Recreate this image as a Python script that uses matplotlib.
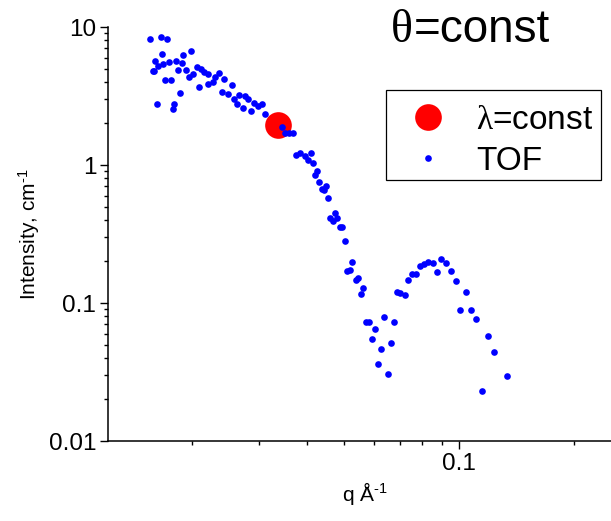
import matplotlib
matplotlib.use("Agg")
import matplotlib.pyplot as plt
from matplotlib.ticker import FixedLocator, FixedFormatter, LogLocator, NullFormatter

plt.rcParams['font.family'] = ['Liberation Sans', 'DejaVu Sans']
plt.rcParams['mathtext.fontset'] = 'custom'
plt.rcParams['mathtext.rm'] = 'Liberation Sans'
plt.rcParams['mathtext.it'] = 'Liberation Sans:italic'
plt.rcParams['mathtext.bf'] = 'Liberation Sans:bold'
plt.rcParams['mathtext.sf'] = 'Liberation Sans'
plt.rcParams['mathtext.cal'] = 'Liberation Serif'

# TOF data (q in 1/Angstrom, intensity in 1/cm)
tof_q = [0.01553, 0.01578, 0.01591, 0.01603, 0.01622, 0.01632, 0.01656, 0.01672,
         0.01682, 0.01703, 0.01723, 0.01741, 0.01762, 0.01780, 0.01794, 0.01816,
         0.01835, 0.01860, 0.01879, 0.01898, 0.01929, 0.01968, 0.01988, 0.02016,
         0.02058, 0.02090, 0.02112, 0.02154, 0.02207, 0.02207, 0.02274, 0.02298,
         0.02358, 0.02392, 0.02426, 0.02489, 0.02541, 0.02581, 0.02628, 0.02660,
         0.02715, 0.02753, 0.02808, 0.02849, 0.02906, 0.02982, 0.03055, 0.03110,
         0.03434, 0.03503, 0.03589, 0.03670, 0.03737, 0.03835, 0.03953, 0.04032,
         0.04091, 0.04140, 0.04198, 0.04241, 0.04308, 0.04371, 0.04432, 0.04486,
         0.04549, 0.04596, 0.04671, 0.04736, 0.04802, 0.04881, 0.04949, 0.05030,
         0.05082, 0.05185, 0.05257, 0.05366, 0.05451, 0.05530, 0.05617, 0.05708,
         0.05813, 0.05920, 0.06027, 0.06148, 0.06249, 0.06375, 0.06507, 0.06637,
         0.06770, 0.06894, 0.07006, 0.07221, 0.07367, 0.07520, 0.07716, 0.07905,
         0.08098, 0.08311, 0.08534, 0.08741, 0.08974, 0.09230, 0.09512, 0.09803,
         0.1008, 0.1041, 0.1075, 0.1110, 0.1149, 0.1189, 0.1235, 0.1333]
tof_I = [8.185, 4.799, 4.80, 5.642, 2.754, 5.216, 8.506, 6.373,
         5.366, 4.129, 8.144, 5.577, 4.129, 2.559, 2.754, 5.642,
         4.880, 3.341, 5.458, 6.268, 4.880, 4.364, 6.734, 4.564,
         5.105, 3.656, 4.938, 4.744, 4.564, 3.864, 4.014, 4.364,
         4.618, 3.364, 4.221, 3.270, 3.800, 3.023, 2.754, 3.215,
         2.602, 3.162, 3.023, 2.474, 2.800, 2.676, 2.754, 2.330,
         1.876, 1.714, 1.697, 1.714, 1.182, 1.228, 1.162, 1.087,
         1.216, 1.029, 0.8465, 0.9048, 0.7491, 0.6700, 0.6589, 0.7079,
         0.5794, 0.4150, 0.3948, 0.4467, 0.4110, 0.3571, 0.3571, 0.2813,
         0.1714, 0.1734, 0.1992, 0.1468, 0.1525, 0.1162, 0.1291, 0.07284,
         0.07284, 0.05483, 0.06448, 0.03595, 0.04618, 0.07958, 0.03043, 0.05157,
         0.07284, 0.1196, 0.1176, 0.1143, 0.1468, 0.1614, 0.1614, 0.1853,
         0.1907, 0.1972, 0.1940, 0.1677, 0.2084, 0.1940, 0.1705, 0.1451,
         0.08941, 0.1202, 0.08941, 0.07619, 0.02304, 0.05738, 0.04393, 0.02943]

# lambda = const point
lam_q = [0.0336]
lam_I = [1.95]

y_ticks = [0.01, 0.1, 1, 10]
y_labels = ['0.01', '0.1', '1', '10']
x_ticks = [0.1]
x_labels = ['0.1']

fig = plt.figure(figsize=(6.11, 5.21), dpi=100)
ax = fig.add_axes([108/611, 1-441/521, 1-108/611, (441-27)/521])

ax.plot(lam_q, lam_I, linestyle='none', marker='o', markersize=19.2,
        color='#ff0000', markeredgewidth=0, label=r'$\mathcal{\lambda}$=const')
ax.plot(tof_q, tof_I, linestyle='none', marker='o', markersize=4.8,
        color='#0000ff', markeredgewidth=0, label='TOF')

ax.set_xscale('log')
ax.set_yscale('log')
ax.set_xlim(0.01205, 0.25)
ax.set_ylim(0.01, 10)

ax.yaxis.set_major_locator(FixedLocator(y_ticks))
ax.yaxis.set_major_formatter(FixedFormatter(y_labels))
ax.yaxis.set_minor_locator(LogLocator(base=10, subs=range(2, 10)))
ax.yaxis.set_minor_formatter(NullFormatter())
ax.xaxis.set_major_locator(FixedLocator(x_ticks))
ax.xaxis.set_major_formatter(FixedFormatter(x_labels))
ax.xaxis.set_minor_locator(LogLocator(base=10, subs=range(2, 10)))
ax.xaxis.set_minor_formatter(NullFormatter())

for s in ['top', 'right']:
    ax.spines[s].set_visible(False)
for s in ['left', 'bottom']:
    ax.spines[s].set_linewidth(1.1)
ax.tick_params(which='major', length=6, width=1.0, labelsize=17.5, direction='out', pad=2.5)
ax.tick_params(which='minor', length=3, width=1.0, direction='out')

ax.set_ylabel(r'Intensity, cm$^{\text{-1}}$', fontsize=15, labelpad=5)
ax.set_xlabel(r'q Å$^{\text{-1}}$', fontsize=15, labelpad=1)
ax.xaxis.set_label_coords((365-108)/503, -0.095)

leg = ax.legend(loc='upper left',
                bbox_to_anchor=(385.7/611, 1-182.7/521, 215/611, 92.7/521),
                bbox_transform=fig.transFigure, mode='expand',
                fontsize=24, frameon=True, title=' ', title_fontsize=1,
                fancybox=False, edgecolor='black', framealpha=1,
                borderpad=0.1, handlelength=2.31, handletextpad=0.31,
                labelspacing=0.31, borderaxespad=0, numpoints=1)
leg.get_frame().set_linewidth(0.9)

fig.text(391/611, 1-42/521, 'θ', fontsize=33, family='Liberation Serif',
         ha='left', va='baseline')
fig.text(414/611, 1-42/521, '=const', fontsize=33, ha='left', va='baseline')

fig.savefig('out.png', dpi=100)
